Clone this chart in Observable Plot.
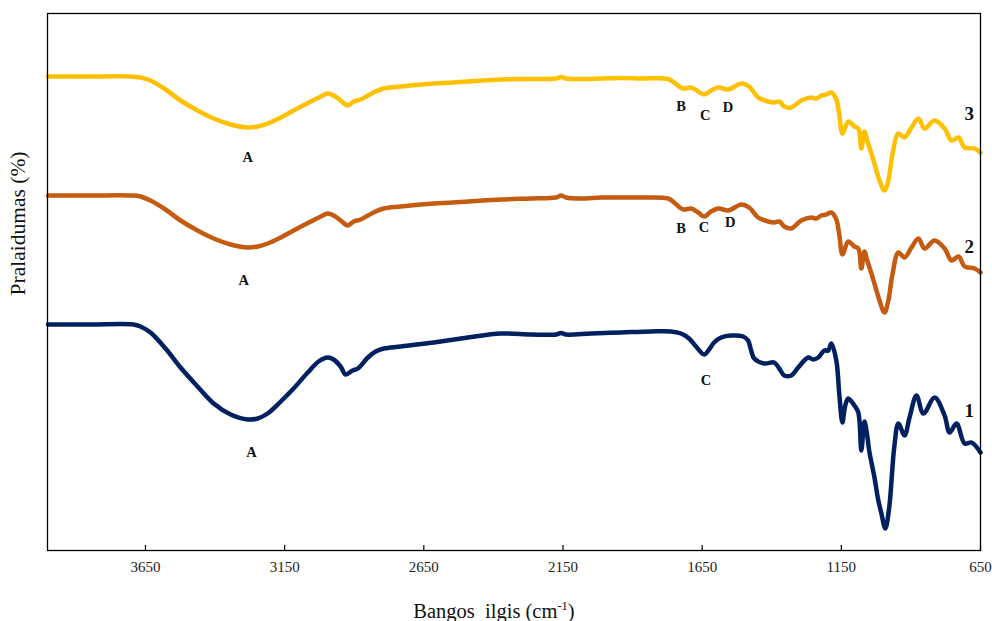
<!DOCTYPE html>
<html>
<head>
<meta charset="utf-8">
<script src="https://cdn.jsdelivr.net/npm/d3@7"></script>
<script src="https://cdn.jsdelivr.net/npm/@observablehq/plot@0.6"></script>
<style>
  html, body { margin: 0; padding: 0; background: #fff; }
  #chart { width: 992px; height: 621px; }
  #chart svg text { font-family: "Liberation Serif", "DejaVu Serif", serif; }
</style>
</head>
<body>
<div id="chart"></div>
<script>
// Wavenumbers (cm-1) and transmittance readings (arbitrary offset units) per spectrum
const wn3 = [4000,3848,3704,3668,3632,3578,3524,3463,3405,3344,3283,3247,3211,3164,3118,3056,3020,2995,2974,2949,2923,2902,2877,2851,2823,2794,2733,2614,2492,2373,2265,2175,2157,2139,2085,2013,1941,1870,1772,1751,1718,1690,1664,1643,1618,1592,1556,1527,1510,1481,1449,1413,1391,1373,1355,1330,1294,1258,1240,1222,1204,1186,1168,1157,1146,1125,1103,1089,1078,1067,1057,1042,1028,1013,995,981,967,945,923,898,873,851,815,779,754,729,707,671,650];
const t3 = [47.4,47.4,47.4,47.3,47.0,46.1,45.0,44.0,43.2,42.6,42.3,42.4,42.7,43.3,44.0,44.9,45.4,45.7,45.5,45.0,44.5,44.9,45.1,45.5,45.9,46.2,46.4,46.7,46.9,47.1,47.15,47.2,47.35,47.2,47.15,47.2,47.25,47.2,47.15,46.8,46.2,46.3,45.9,45.6,46.0,46.3,46.1,46.5,46.7,46.4,45.3,44.9,44.8,44.9,44.4,44.3,45.0,45.3,45.2,45.5,45.6,45.8,45.1,43.5,41.7,42.9,42.4,42.2,40.2,41.9,41.0,39.7,38.4,37.0,36.0,37.0,39.5,41.7,41.3,42.3,43.2,42.2,43.0,42.2,41.0,41.3,40.3,40.2,39.8];

const wn2 = [4000,3848,3704,3668,3632,3578,3524,3463,3405,3344,3283,3247,3211,3164,3118,3056,3020,2995,2974,2949,2923,2902,2877,2851,2823,2794,2733,2614,2492,2373,2265,2175,2157,2139,2085,2013,1941,1870,1772,1751,1718,1690,1664,1643,1618,1592,1556,1527,1510,1481,1449,1413,1391,1373,1355,1330,1294,1258,1240,1222,1204,1186,1168,1157,1146,1125,1103,1089,1078,1067,1057,1042,1028,1013,995,981,967,945,923,898,873,851,815,779,754,729,707,671,650];
const t2 = [35.5,35.5,35.5,35.4,35.0,34.1,33.0,32.0,31.2,30.6,30.3,30.4,30.7,31.3,32.0,32.9,33.4,33.7,33.5,33.0,32.5,32.9,33.1,33.5,33.9,34.2,34.4,34.7,34.9,35.1,35.2,35.3,35.5,35.3,35.2,35.3,35.3,35.3,35.2,34.8,34.1,34.2,33.8,33.4,33.9,34.2,34.0,34.4,34.6,34.3,33.3,32.9,32.8,32.9,32.4,32.2,33.0,33.3,33.2,33.5,33.6,33.8,33.1,31.5,29.6,30.9,30.4,30.2,28.2,29.9,29.0,27.7,26.4,25.0,23.8,25.0,27.5,29.8,29.3,30.3,31.2,30.2,31.0,30.2,29.0,29.4,28.4,28.2,27.8];

const wn1 = [4000,3848,3693,3668,3632,3578,3524,3463,3405,3344,3283,3247,3211,3164,3118,3067,3028,2995,2974,2949,2931,2906,2887,2851,2823,2794,2733,2614,2492,2373,2265,2175,2157,2139,2049,1941,1834,1762,1726,1697,1672,1643,1625,1607,1582,1546,1503,1485,1474,1463,1427,1391,1373,1355,1330,1305,1269,1251,1233,1211,1197,1186,1168,1157,1146,1136,1125,1103,1089,1078,1067,1057,1050,1031,1017,1006,992,978,960,945,923,905,880,855,815,779,761,736,707,682,650];
const t1 = [22.6,22.6,22.6,22.4,21.8,20.2,18.3,16.4,14.7,13.6,13.1,13.2,13.7,14.9,16.2,17.8,18.9,19.3,19.1,18.4,17.6,18.0,18.2,19.3,19.9,20.2,20.4,20.8,21.3,21.7,21.6,21.6,21.75,21.6,21.7,21.8,21.9,21.9,21.7,21.2,20.4,19.6,20.1,20.8,21.3,21.5,21.4,21.0,20.0,19.2,18.7,18.8,18.2,17.5,17.5,18.3,19.3,19.1,19.3,20.0,20.0,20.7,19.0,15.5,12.8,14.5,15.2,14.5,13.8,10.0,12.9,11.5,10.0,7.3,5.0,3.7,2.2,4.3,10.3,12.7,11.5,13.3,15.5,13.7,15.3,13.5,11.8,12.7,10.7,10.8,9.8];

const seriesNames = ["3", "2", "1"];
const seriesColors = ["#FFC000", "#C55A11", "#002060"];

const xTicks = [3650, 3150, 2650, 2150, 1650, 1150, 650];

// Band annotations: label, wavenumber, value
const bandLabels = ["A","B","C","D","A","B","C","D","A","C"];
const bandWn     = [3283,1726,1639,1557,3297,1726,1643,1549,3269,1636];
const bandT      = [39.3,44.4,43.5,44.3,27.0,32.2,32.3,32.8,9.8,17.0];

const numWn = [690, 690, 690];
const numT  = [43.7, 30.4, 14.0];

const yTitle = "Pralaidumas (%)";

const rows = [];
[[wn3, t3], [wn2, t2], [wn1, t1]].forEach(([w, t], k) => {
  w.forEach((v, i) => rows.push({s: seriesNames[k], wn: v, t: t[i]}));
});
const bands = bandLabels.map((l, i) => ({l, wn: bandWn[i], t: bandT[i]}));
const nums = seriesNames.map((l, i) => ({l, wn: numWn[i], t: numT[i]}));

const serif = "Liberation Serif";

const chart = Plot.plot({
  width: 992,
  height: 621,
  marginLeft: 47,
  marginRight: 12,
  marginTop: 13,
  marginBottom: 71,
  style: {fontFamily: serif, background: "#fff"},
  x: {domain: [4002, 650]},
  y: {domain: [0, 53.7], axis: null},
  color: {domain: seriesNames, range: seriesColors},
  marks: [
    Plot.line(rows, {x: "wn", y: "t", z: "s", stroke: "s", strokeWidth: 4.5, curve: "catmull-rom", strokeLinejoin: "round", strokeLinecap: "round"}),
    Plot.frame({stroke: "#000", strokeWidth: 1.3}),
    Plot.ruleX(xTicks, {y1: 0, y2: 0.5, stroke: "#000", strokeWidth: 1.2}),
    Plot.axisX({ticks: xTicks, tickSize: 0, tickPadding: 11, tickFormat: d => String(d), fontSize: 15, fontFamily: serif, fill: "#222", label: null}),
    Plot.text(bands, {x: "wn", y: "t", text: "l", fontSize: 14.5, fontWeight: "bold", fill: "#111", fontFamily: serif}),
    Plot.text(nums, {x: "wn", y: "t", text: "l", fontSize: 19, fontWeight: "bold", fill: "#111", fontFamily: serif}),
    Plot.text([yTitle], {x: 4107, y: 32.7, text: d => d, rotate: -90, fontSize: 21.5, fill: "#111", fontFamily: serif})
  ]
});

// X axis title with superscript
const svg = d3.select(chart);
const xt = svg.append("text")
  .attr("x", 494)
  .attr("y", 618)
  .attr("text-anchor", "middle")
  .attr("font-family", serif)
  .attr("font-size", 20.5)
  .attr("fill", "#111");
xt.append("tspan").text("Bangos\u00a0 ilgis (cm");
xt.append("tspan").attr("font-size", 12.5).attr("dy", -8).text("-1");
xt.append("tspan").attr("dy", 8).text(")");

document.getElementById("chart").appendChild(chart);
</script>
</body>
</html>
